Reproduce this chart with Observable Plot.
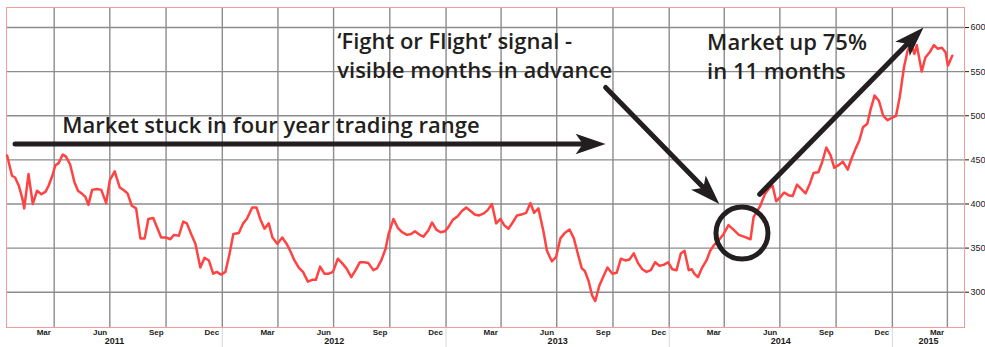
<!DOCTYPE html>
<html><head><meta charset="utf-8">
<script src="https://cdn.jsdelivr.net/npm/d3@7"></script>
<script src="https://cdn.jsdelivr.net/npm/@observablehq/plot@0.6"></script>
<style>html,body{margin:0;padding:0;background:#fff;} svg{display:block;}</style>
</head><body><div id="chart"></div>
<script>
const dates = [
"2011-01-14","2011-01-22","2011-01-27","2011-02-02","2011-02-08","2011-02-11","2011-02-18","2011-02-25","2011-03-04","2011-03-11","2011-03-18","2011-03-23","2011-03-29","2011-04-03","2011-04-08","2011-04-15","2011-04-20","2011-04-27","2011-05-04","2011-05-10","2011-05-16","2011-05-22","2011-05-27","2011-06-02","2011-06-10","2011-06-17","2011-06-25","2011-07-01","2011-07-09","2011-07-17","2011-07-25","2011-07-30","2011-08-06","2011-08-13","2011-08-20","2011-08-27","2011-09-02","2011-09-10","2011-09-16","2011-09-23","2011-10-01","2011-10-08","2011-10-14","2011-10-22","2011-10-29","2011-11-04","2011-11-11","2011-11-18","2011-11-26","2011-12-03","2011-12-10","2011-12-17","2011-12-23","2011-12-30",
"2012-01-06","2012-01-13","2012-01-19","2012-01-28","2012-02-04","2012-02-10","2012-02-19","2012-02-26","2012-03-03","2012-03-10","2012-03-17","2012-03-23","2012-03-31","2012-04-08","2012-04-15","2012-04-21","2012-04-28","2012-05-05","2012-05-12","2012-05-20","2012-05-27","2012-06-02","2012-06-09","2012-06-16","2012-06-23","2012-06-30","2012-07-08","2012-07-15","2012-07-22","2012-07-30","2012-08-06","2012-08-13","2012-08-20","2012-08-27","2012-09-04","2012-09-10","2012-09-17","2012-09-24","2012-09-29","2012-10-07","2012-10-14","2012-10-21","2012-10-29","2012-11-05","2012-11-11","2012-11-19","2012-11-25","2012-12-03","2012-12-09","2012-12-16","2012-12-23","2012-12-30",
"2013-01-05","2013-01-12","2013-01-20","2013-01-27","2013-02-03","2013-02-10","2013-02-17","2013-02-24","2013-03-03","2013-03-10","2013-03-17","2013-03-24","2013-03-31","2013-04-06","2013-04-13","2013-04-20","2013-04-27","2013-05-04","2013-05-12","2013-05-19","2013-05-25","2013-06-01","2013-06-09","2013-06-15","2013-06-23","2013-06-30","2013-07-07","2013-07-14","2013-07-22","2013-07-29","2013-08-04","2013-08-11","2013-08-16","2013-08-22","2013-08-28","2013-09-02","2013-09-09","2013-09-16","2013-09-22","2013-09-30","2013-10-07","2013-10-14","2013-10-21","2013-10-28","2013-11-04","2013-11-11","2013-11-18","2013-11-25","2013-12-02","2013-12-09","2013-12-16","2013-12-23","2013-12-30",
"2014-01-06","2014-01-13","2014-01-20","2014-01-26","2014-02-02","2014-02-07","2014-02-11","2014-02-17","2014-02-24","2014-03-03","2014-03-09","2014-03-16","2014-03-23","2014-03-31","2014-04-08","2014-04-16","2014-04-25","2014-05-03","2014-05-14","2014-05-19","2014-05-30","2014-06-07","2014-06-15","2014-06-19","2014-06-25","2014-07-02","2014-07-08","2014-07-15","2014-07-22","2014-07-29","2014-08-05","2014-08-12","2014-08-19","2014-08-25","2014-09-02","2014-09-08","2014-09-15","2014-09-22","2014-09-28","2014-10-05","2014-10-12","2014-10-20","2014-10-26","2014-11-02","2014-11-08","2014-11-14","2014-11-21","2014-11-26","2014-12-03","2014-12-10","2014-12-17","2014-12-24",
"2015-01-01","2015-01-07","2015-01-13","2015-01-20","2015-01-26","2015-02-01","2015-02-06","2015-02-10","2015-02-18","2015-02-24","2015-03-03","2015-03-10","2015-03-16","2015-03-23","2015-03-29","2015-04-02","2015-04-09"
];
const values = [
455,432,430,421,406,395,434,400,415,411,414,421,432,444,446,456,454,445,425,415,412,408,399,416,417,416,401,427,437,419,415,412,398,395,361,361,383,384,374,362,362,360,365,364,380,378,366,355,328,339,336,321,323,320,
323,344,366,367,378,383,396,396,383,372,378,362,355,362,355,347,336,328,323,312,314,314,329,321,321,323,338,333,327,317,325,334,334,333,325,327,336,349,366,383,373,368,365,366,369,365,363,370,379,371,368,369,
374,382,386,392,396,392,388,387,389,393,400,378,383,376,372,379,387,388,390,401,390,395,370,347,335,340,361,367,371,361,345,327,324,313,296,290,308,319,328,321,322,338,336,337,344,333,326,323,325,334,330,331,334,
326,325,344,347,325,326,321,317,328,336,347,354,359,366,376,371,365,363,360,385,398,412,419,421,403,408,413,410,409,422,417,412,423,435,436,447,464,455,441,444,448,439,451,463,472,487,491,506,523,517,500,495,
498,500,521,555,574,581,570,580,550,566,572,580,576,577,572,557,568
];

const yTicks = [300, 350, 400, 450, 500, 550, 600];
const gridDates = ["2011-04-01","2011-07-01","2011-10-01","2012-01-01","2012-04-01","2012-07-01","2012-10-01","2013-01-01","2013-04-01","2013-07-01","2013-10-01","2014-01-01","2014-04-01","2014-07-01","2014-10-01","2015-01-01","2015-04-01"];
const yearStarts = ["2012-01-01","2013-01-01","2014-01-01","2015-01-01"];
const monthTickDates = ["2011-03-15","2011-06-15","2011-09-15","2011-12-15","2012-03-15","2012-06-15","2012-09-15","2012-12-15","2013-03-15","2013-06-15","2013-09-15","2013-12-15","2014-03-15","2014-06-15","2014-09-15","2014-12-15","2015-03-15"];
const monthTickLabels = ["Mar","Jun","Sep","Dec","Mar","Jun","Sep","Dec","Mar","Jun","Sep","Dec","Mar","Jun","Sep","Dec","Mar"];
const yearLabels = ["2011","2012","2013","2014","2015"];

const noteText = ["Market stuck in four year trading range", "\u2018Fight or Flight\u2019 signal -\nvisible months in advance", "Market up 75%\nin 11 months"];
const noteDate = ["2011-04-14", "2012-07-07", "2014-03-04"];
const noteValue = [481, 543, 542];

const arrowFromDate = ["2011-01-27", "2013-09-19", "2014-05-29"];
const arrowFromValue = [468, 532, 411];
const arrowToDate = ["2013-09-19", "2014-03-24", "2015-02-21"];
const arrowToValue = [468, 400, 600];

const circleDate = ["2014-04-30"];
const circleValue = [367];

// layout
const W = 985, H = 347, mL = 6, mR = 21, mT = 7, mB = 20;
const parse = d3.utcParse("%Y-%m-%d");
const xDomain = [parse("2011-01-13"), parse("2015-04-29")];
const yDomain = [260, 622.7];
const ink = "#231f20";

const series = dates.slice(0, Math.min(dates.length, values.length)).map((d, i) => ({date: parse(d), value: values[i]}));
const months = monthTickDates.map((d, i) => ({date: parse(d), label: monthTickLabels[i]}));
const years = yearLabels.map(y => {
  const a = Math.max(+parse(y + "-01-01"), +xDomain[0]);
  const b = Math.min(+parse((+y + 1) + "-01-01"), +xDomain[1]);
  return {date: new Date((a + b) / 2), label: y};
});
const notes = noteText.map((t, i) => ({date: parse(noteDate[i]), value: noteValue[i], text: t}));
const xs = d3.scaleUtc(xDomain, [mL, W - mR]);
const ys = d3.scaleLinear(yDomain, [H - mB, mT]);
const arrows = arrowFromDate.map((d, i) => {
  const x1 = parse(d), x2 = parse(arrowToDate[i]);
  const dx = xs(x2) - xs(x1), dy = ys(arrowToValue[i]) - ys(arrowFromValue[i]);
  return {x1, y1: arrowFromValue[i], x2, y2: arrowToValue[i], angle: Math.atan2(dx, -dy) * 180 / Math.PI};
});
const circles = circleDate.map((d, i) => ({date: parse(d), value: circleValue[i]}));

// filled, notched arrowhead with its tip at the origin, pointing up
const arrowHead = {
  draw(ctx, size) {
    const L = Math.sqrt(size / Math.PI), w = L * 0.34;
    ctx.moveTo(0, 0);
    ctx.lineTo(w, L);
    ctx.lineTo(0, L * 0.76);
    ctx.lineTo(-w, L);
    ctx.closePath();
  }
};

const chart = Plot.plot({
  width: W, height: H,
  marginLeft: mL, marginRight: mR, marginTop: mT, marginBottom: mB,
  style: {fontFamily: "Liberation Sans, Arial, sans-serif", fontSize: "9px", color: "#1a1a1a", background: "#fff"},
  x: {type: "utc", domain: xDomain, axis: null},
  y: {domain: yDomain, axis: "right", ticks: yTicks, tickFormat: d => String(d), tickSize: 4, tickPadding: 2, label: null},
  marks: [
    Plot.ruleY(yTicks, {stroke: "#8c8c8c", strokeWidth: 1.4}),
    Plot.ruleX(gridDates.map(parse), {stroke: "#8c8c8c", strokeWidth: 1.4}),
    Plot.ruleX(yearStarts.map(parse), {y1: 260, y2: 236, stroke: "#d8d8d8", strokeWidth: 1}),
    Plot.frame({stroke: "#f39c9c", strokeWidth: 1}),
    Plot.line(series, {x: "date", y: "value", stroke: "#ff4343", strokeWidth: 2.5, strokeLinejoin: "round", strokeLinecap: "round"}),
    Plot.arrow(arrows, {x1: "x1", y1: "y1", x2: "x2", y2: "y2", stroke: ink, strokeWidth: 5, headLength: 0, insetEnd: 18}),
    Plot.dot(arrows, {x: "x2", y: "y2", symbol: arrowHead, r: 30, fill: ink, stroke: "none", rotate: "angle"}),
    Plot.dot(circles, {x: "date", y: "value", r: 26, stroke: ink, strokeWidth: 5, fill: "none"}),
    Plot.text(notes, {x: "date", y: "value", text: "text", textAnchor: "start", lineAnchor: "bottom", lineHeight: 1.32, fontSize: 22, fontWeight: 600, fontFamily: "Open Sans", fill: ink}),
    Plot.text(months, {x: "date", text: "label", frameAnchor: "bottom", dy: 7, fontSize: 8, fontWeight: "bold", fill: "#1a1a1a"}),
    Plot.text(years, {x: "date", text: "label", frameAnchor: "bottom", dy: 16, fontSize: 9, fontWeight: "bold", fill: "#1a1a1a"})
  ]
});
document.getElementById("chart").appendChild(chart);
</script>
</body></html>
